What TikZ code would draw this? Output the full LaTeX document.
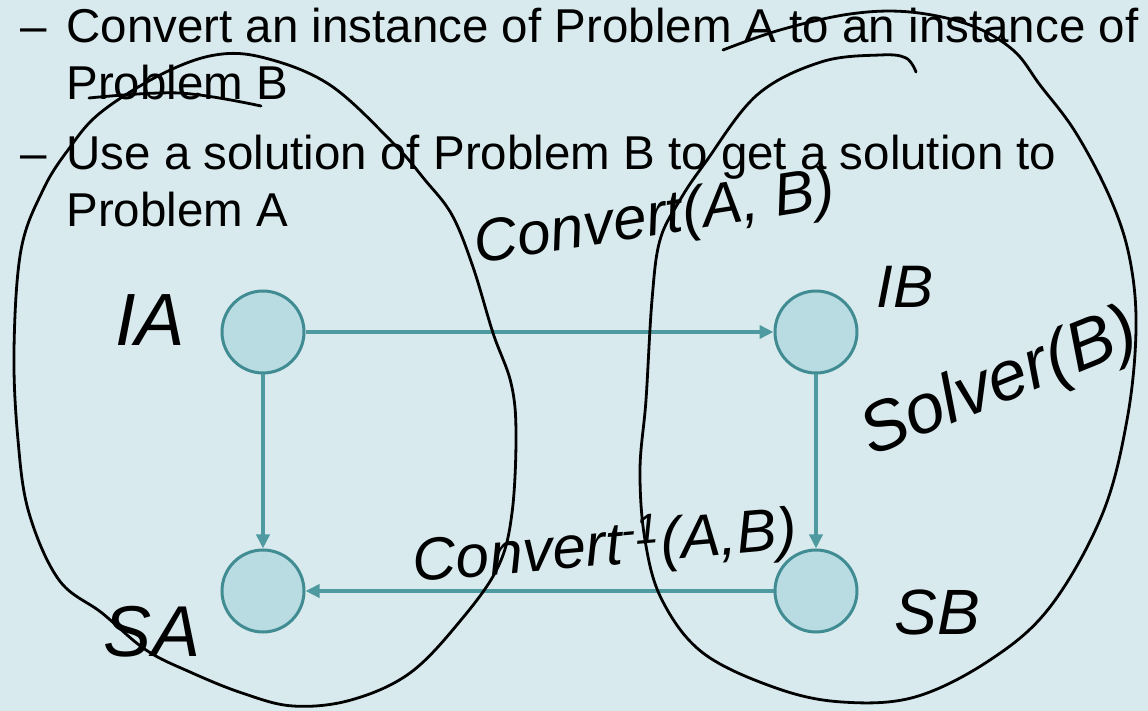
\documentclass[tikz,border=0pt]{standalone}
\usepackage{fontspec}
\setmainfont{Liberation Sans}
\usepackage{tikz}
\usetikzlibrary{arrows.meta,positioning}
\definecolor{slidebg}{RGB}{216,234,237}
\definecolor{vfill}{RGB}{185,220,227}
\definecolor{vline}{RGB}{64,140,146}
\definecolor{earrow}{RGB}{78,154,160}

\begin{document}
\begin{tikzpicture}[x=0.5pt,y=-0.5pt,
  vtx/.style={circle,draw=vline,line width=1.5pt,fill=vfill,minimum size=41pt,inner sep=0pt},
  reduc/.style={earrow,line width=2pt,-{Triangle[length=7pt,width=6.5pt]}},
  bullet/.style={anchor=base west,inner sep=0pt,font=\fontsize{23.75}{28}\selectfont},
  hand/.style={inner sep=0pt,font=\itshape},
  ink/.style={black,line width=1.4pt,line cap=round,line join=round}]
  \fill[slidebg] (0,0) rectangle (1148,711);
  \useasboundingbox (0,0) rectangle (1148,711);
  % slide text
  \node[bullet] (d1) at (20,43) {\textendash};
  \node[bullet] (l1) at (66,43) {Convert an instance of Problem A to an instance of};
  \node[bullet] (l2) at (66,100) {Problem B};
  \node[bullet] (d2) at (20,170) {\textendash};
  \node[bullet] (l3) at (66,170) {Use a solution of Problem B to get a solution to};
  \node[bullet] (l4) at (66,227) {Problem A};
  % the four instances
  \node[vtx] (ia) at (263,332) {};
  \node[vtx] (ib) at (816,332) {};
  \node[vtx] (sa) at (263,591) {};
  \node[vtx] (sb) at (816,591) {};
  \draw[reduc] (ia) -- (ib);
  \draw[reduc] (ia) -- (sa);
  \draw[reduc] (ib) -- (sb);
  \draw[reduc] (sb) -- (sa);
  % handwritten notes
  \node[hand,font=\itshape\fontsize{37}{37}\selectfont] (nia) at (150,320) {IA};
  \node[hand,font=\itshape\fontsize{30}{30}\selectfont] (nib) at (905,287) {IB};
  \node[hand,font=\itshape\fontsize{36}{36}\selectfont] (nsa) at (152,632) {SA};
  \node[hand,font=\itshape\fontsize{32}{32}\selectfont] (nsb) at (937,612) {SB};
  \node[hand,font=\itshape\fontsize{30}{30}\selectfont,rotate=9] (ncv) at (655,220) {Convert(A, B)};
  \node[hand,font=\itshape\fontsize{30}{30}\selectfont,rotate=5] (ninv) at (605,548) {Convert\textsuperscript{-1}(A,B)};
  \node[hand,font=\itshape\fontsize{35}{35}\selectfont,rotate=22] (nsol) at (1000,385) {Solver(B)};
  \draw[ink] plot[smooth cycle,tension=0.6] coordinates {(68,150) (43,190) (21,250) (14,350) (18,440)
    (29,513) (59,580) (102,613) (146,650) (190,672) (242,693) (293,706) (351,700) (410,673)
    (461,620) (498,567) (512,513) (516,433) (511,383) (493,333) (473,267) (452,215) (425,180)
    (393,143) (330,85) (265,58) (215,55) (160,75) (100,113)};
  \draw[ink] plot[smooth,tension=0.6] coordinates {(89,98) (179,93) (261,106)};
  \draw[ink] plot[smooth,tension=0.6] coordinates {(723,50) (780,30) (850,14) (910,12) (970,25)
    (1013,50) (1040,85) (1076,133) (1111,200) (1130,260) (1136,330) (1127,420) (1102,515)
    (1050,607) (990,660) (915,697) (842,702) (776,688) (703,653) (662,600) (645,540) (640,470)
    (646,400) (652,300) (660,240) (680,200) (705,163) (757,95) (821,62) (880,55) (906,58) (916,72)};
\end{tikzpicture}
\end{document}
